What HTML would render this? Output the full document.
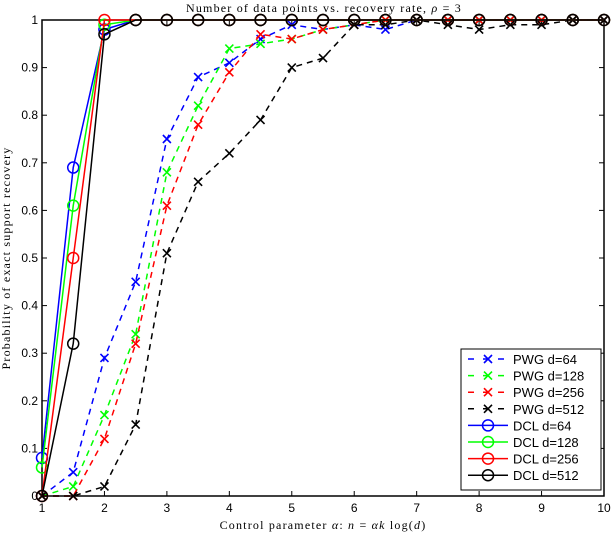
<!DOCTYPE html>
<html><head><meta charset="utf-8"><style>
body{margin:0;background:#fff;}
svg{display:block;font-family:"Liberation Sans",sans-serif;}
.serif{font-family:"Liberation Serif",serif;letter-spacing:1.2px;}
</style></head><body>
<svg id="chart" width="612" height="534"></svg>
<script>
const xs=[1,1.5,2,2.5,3,3.5,4,4.5,5,5.5,6,6.5,7,7.5,8,8.5,9,9.5,10];
const pwg64=[0,0.05,0.29,0.45,0.75,0.88,0.91,0.96,0.99,0.98,0.99,0.98,1,1,1,1,1,1,1];
const pwg128=[0,0.02,0.17,0.34,0.68,0.82,0.94,0.95,0.96,0.98,0.99,1,1,1,1,1,1,1,1];
const pwg256=[0,0,0.12,0.32,0.61,0.78,0.89,0.97,0.96,0.98,0.99,1,1,1,1,1,1,1,1];
const pwg512=[0,0,0.02,0.15,0.51,0.66,0.72,0.79,0.90,0.92,0.99,0.99,1,0.99,0.98,0.99,0.99,1,1];
const dcl64=[0.08,0.69,0.98,1,1,1,1,1,1,1,1,1,1,1,1,1,1,1,1];
const dcl128=[0.06,0.61,0.99,1,1,1,1,1,1,1,1,1,1,1,1,1,1,1,1];
const dcl256=[0,0.5,1,1,1,1,1,1,1,1,1,1,1,1,1,1,1,1,1];
const dcl512=[0,0.32,0.97,1,1,1,1,1,1,1,1,1,1,1,1,1,1,1,1];
const xTicks=[1,2,3,4,5,6,7,8,9,10];
const yTicks=[0,0.1,0.2,0.3,0.4,0.5,0.6,0.7,0.8,0.9,1];
const yTickLabels=["0","0.1","0.2","0.3","0.4","0.5","0.6","0.7","0.8","0.9","1"];
const seriesNames=["PWG d=64","PWG d=128","PWG d=256","PWG d=512","DCL d=64","DCL d=128","DCL d=256","DCL d=512"];

const L=42,R=604,T=20,B=496;
const sx=v=>L+(v-1)/9*(R-L);
const sy=v=>B-v*(B-T);
const svg=document.getElementById('chart');
const NS='http://www.w3.org/2000/svg';
function mk(tag,attrs,parent){const e=document.createElementNS(NS,tag);for(const k in attrs)e.setAttribute(k,attrs[k]);(parent||svg).appendChild(e);return e;}

// axes box
const box=mk('rect',{x:L,y:T,width:R-L,height:B-T,fill:'none',stroke:'#000','stroke-width':1.5});



xTicks.forEach(v=>{
  const x=sx(v);
  mk('line',{x1:x,y1:B,x2:x,y2:B-5,stroke:'#000'});
  mk('line',{x1:x,y1:T,x2:x,y2:T+5,stroke:'#000'});
  const t=mk('text',{x:x,y:B+16,'text-anchor':'middle','font-size':12});
  t.textContent=v;
  
  
});
yTicks.forEach((v,i)=>{
  const y=sy(v);
  mk('line',{x1:L,y1:y,x2:L+5,y2:y,stroke:'#000'});
  mk('line',{x1:R,y1:y,x2:R-5,y2:y,stroke:'#000'});
  const t=mk('text',{x:L-4,y:y+4,'text-anchor':'end','font-size':12});
  t.textContent=yTickLabels[i];
  
  
});

const styles=[
 {data:pwg64,c:'#0000ff',dash:'6,5',m:'x'},
 {data:pwg128,c:'#00ff00',dash:'6,5',m:'x'},
 {data:pwg256,c:'#ff0000',dash:'6,5',m:'x'},
 {data:pwg512,c:'#000000',dash:'6,5',m:'x'},
 {data:dcl64,c:'#0000ff',dash:'',m:'o'},
 {data:dcl128,c:'#00ff00',dash:'',m:'o'},
 {data:dcl256,c:'#ff0000',dash:'',m:'o'},
 {data:dcl512,c:'#000000',dash:'',m:'o'}
];
function marker(g,m,x,y,c){
  if(m==='x'){
    mk('path',{d:`M${x-4},${y-4}L${x+4},${y+4}M${x-4},${y+4}L${x+4},${y-4}`,stroke:c,'stroke-width':1.6,fill:'none'},g);
  } else {
    mk('circle',{cx:x,cy:y,r:5.5,stroke:c,'stroke-width':1.5,fill:'none'},g);
  }
}
styles.forEach((s,i)=>{
  const g=mk('g',{});
  
  
  const pts=s.data.map((v,j)=>sx(xs[j])+','+sy(v)).join(' ');
  const pl=mk('polyline',{points:pts,fill:'none',stroke:s.c,'stroke-width':1.5,'stroke-dasharray':s.dash},g);
  
  
  s.data.forEach((v,j)=>marker(g,s.m,sx(xs[j]),sy(v),s.c));
});

// title & axis labels
const title=mk('text',{x:324,y:12,'text-anchor':'middle','font-size':12,class:'serif'});
title.innerHTML='Number of data points vs. recovery rate, <tspan font-style="italic">ρ</tspan> = 3';


const xl=mk('text',{x:323,y:529,'text-anchor':'middle','font-size':12,class:'serif'});
xl.innerHTML='Control parameter <tspan font-style="italic">α</tspan>: <tspan font-style="italic">n</tspan> = <tspan font-style="italic">αk</tspan> log(<tspan font-style="italic">d</tspan>)';


const yl=mk('text',{x:0,y:0,'text-anchor':'middle','font-size':12,class:'serif',transform:'translate(10,258) rotate(-90)'});
yl.textContent='Probability of exact support recovery';



// legend
const lg=mk('g',{});


mk('rect',{x:461,y:349,width:140,height:141,fill:'#fff',stroke:'#000','stroke-width':1},lg);
styles.forEach((s,i)=>{
  const y=359+i*16.6;
  const e=mk('g',{},lg);
  
  
  mk('line',{x1:468,y1:y,x2:508,y2:y,stroke:s.c,'stroke-width':1.5,'stroke-dasharray':s.dash?'6,9':''},e);
  marker(e,s.m,488,y,s.c);
  const t=mk('text',{x:513,y:y+5,'font-size':13},e);
  t.textContent=seriesNames[i];
});
</script>
</body></html>
